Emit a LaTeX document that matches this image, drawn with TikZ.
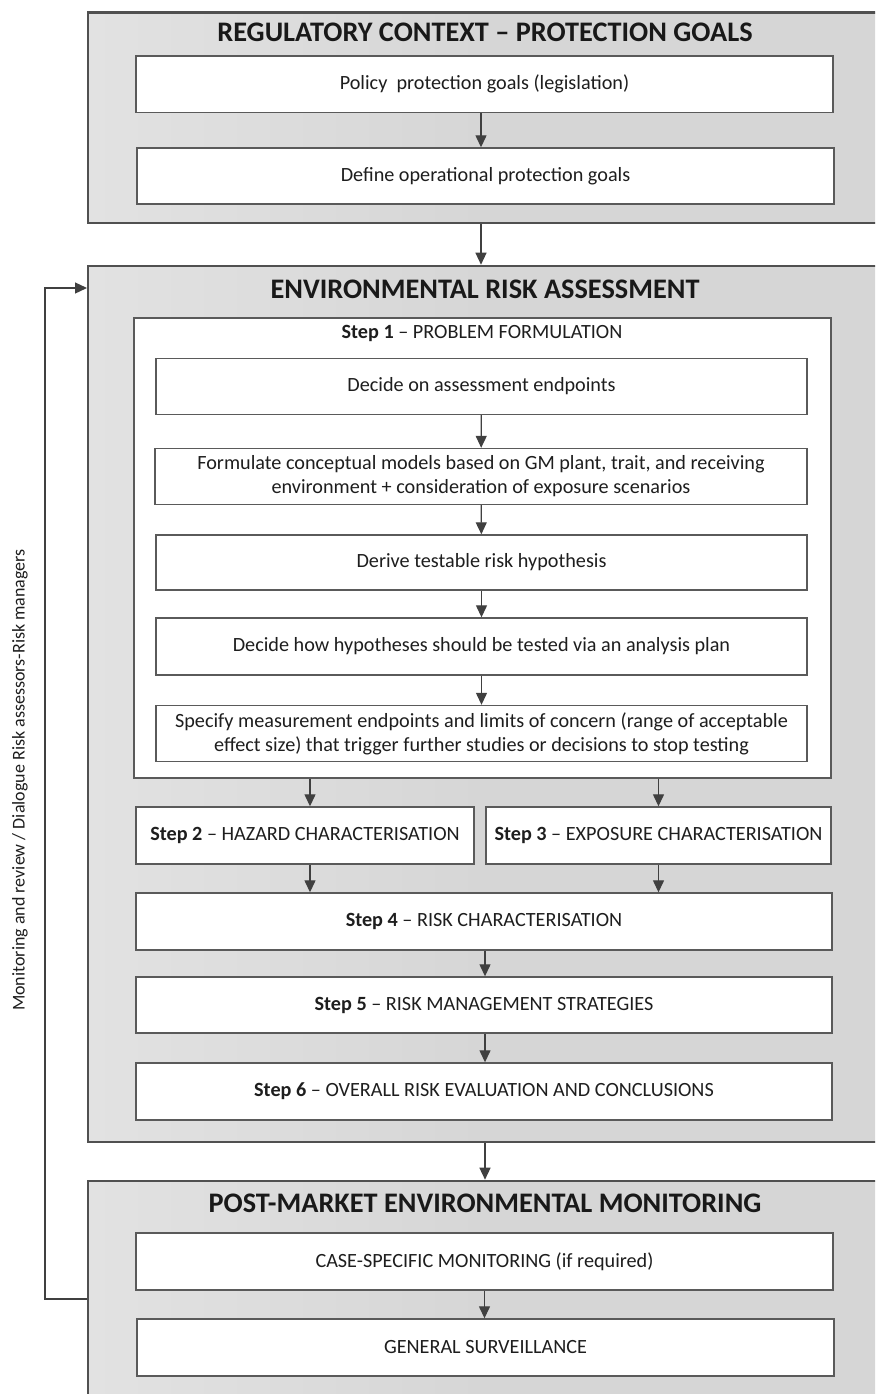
\documentclass[tikz,border=0pt]{standalone}
\usepackage{fontspec}
\setmainfont{Carlito}
\usetikzlibrary{arrows.meta,calc}
\definecolor{outerfill}{RGB}{214,214,214}
\definecolor{outerleft}{RGB}{226,226,226}
\definecolor{outerline}{RGB}{80,80,80}
\definecolor{innerline}{RGB}{90,90,90}
\definecolor{arrowcol}{RGB}{64,64,64}
\definecolor{textcol}{RGB}{30,30,30}
\tikzset{
  outerbox/.style={draw=outerline, line width=2.6pt, left color=outerleft, right color=outerfill, middle color=outerfill, shading angle=90, inner sep=0pt},
  innerbox/.style={draw=innerline, line width=1.4pt, fill=white, inner sep=2pt, align=center, text=textcol, font=\fontsize{20.2}{24}\selectfont},
  titletext/.style={font=\fontsize{28.3}{32}\selectfont\bfseries, text=black!90, inner sep=0pt},
  flow/.style={draw=arrowcol, line width=1.3pt, -{Triangle[width=11pt,length=12pt]}},
  sidetext/.style={font=\fontsize{18}{22}\selectfont, text=textcol, rotate=90, inner sep=0pt}
}
\begin{document}
\begin{tikzpicture}[x=1pt,y=-1pt]
\useasboundingbox (0,0) rectangle (875,1394);
\clip (0,0) rectangle (875,1394);
\fill[white] (0,0) rectangle (875,1394);

% Regulatory context
\node[outerbox, minimum width=792pt, minimum height=210.5pt] (reg) at (484,117.75) {};
\node[titletext] (regtitle) at (485,32) {REGULATORY CONTEXT – PROTECTION GOALS};
\node[innerbox, minimum width=697pt, minimum height=56.5pt] (policy) at (484.5,84.25) {Policy\ \ protection goals (legislation)};
\node[innerbox, minimum width=697pt, minimum height=56pt] (define) at (485.5,176) {Define operational protection goals};

% ERA
\node[outerbox, minimum width=792pt, minimum height=876pt] (era) at (484,704) {};
\node[titletext] (eratitle) at (485,289) {ENVIRONMENTAL RISK ASSESSMENT};
\node[innerbox, minimum width=697pt, minimum height=460pt] (step1) at (482.5,548) {};
\node[innerbox, inner sep=0pt, draw=none, fill=none] (step1title) at (482,333) {\textbf{Step 1} – PROBLEM FORMULATION};
\node[innerbox, minimum width=651pt, minimum height=56pt] (s1a) at (481.5,386.5) {Decide on assessment endpoints};
\node[innerbox, minimum width=652pt, minimum height=56pt] (s1b) at (481,476.5) {Formulate conceptual models based on GM plant, trait, and receiving\\environment + consideration of exposure scenarios};
\node[innerbox, minimum width=651pt, minimum height=55pt] (s1c) at (481.5,562.5) {Derive testable risk hypothesis};
\node[innerbox, minimum width=651pt, minimum height=57pt] (s1d) at (481.5,646.5) {Decide how hypotheses should be tested via an analysis plan};
\node[innerbox, minimum width=651pt, minimum height=56pt] (s1e) at (481.5,733.5) {Specify measurement endpoints and limits of concern (range of acceptable\\effect size) that trigger further studies or decisions to stop testing};
\node[innerbox, minimum width=338pt, minimum height=57pt] (step2) at (305,835.5) {\textbf{Step 2} – HAZARD CHARACTERISATION};
\node[innerbox, minimum width=345pt, minimum height=57pt] (step3) at (658.5,835.5) {\textbf{Step 3} – EXPOSURE CHARACTERISATION};
\node[innerbox, minimum width=696pt, minimum height=57pt] (step4) at (484,921.5) {\textbf{Step 4} – RISK CHARACTERISATION};
\node[innerbox, minimum width=696pt, minimum height=56pt] (step5) at (484,1005) {\textbf{Step 5} – RISK MANAGEMENT STRATEGIES};
\node[innerbox, minimum width=696pt, minimum height=57pt] (step6) at (484,1091.5) {\textbf{Step 6} – OVERALL RISK EVALUATION AND CONCLUSIONS};

% Post-market
\node[outerbox, minimum width=792pt, minimum height=239pt] (pm) at (484,1300.5) {};
\node[titletext] (pmtitle) at (485,1203) {POST-MARKET ENVIRONMENTAL MONITORING};
\node[innerbox, minimum width=697pt, minimum height=57pt] (case) at (484.5,1261.5) {CASE-SPECIFIC MONITORING (if required)};
\node[innerbox, minimum width=697pt, minimum height=57pt] (general) at (485.5,1347.5) {GENERAL SURVEILLANCE};

% side text
\node[sidetext] (side) at (20,780) {Monitoring and review / Dialogue Risk assessors-Risk managers};

% arrows
\draw[flow] ([xshift=-3.5pt]policy.south) -- ([xshift=-3.5pt]policy.south |- define.north);
\draw[flow] ([xshift=-3pt]reg.south) -- ([xshift=-3pt]reg.south |- era.north);
\draw[flow] (s1a) -- (s1b);
\draw[flow] (s1b) -- (s1c);
\draw[flow] (s1c) -- (s1d);
\draw[flow] (s1d) -- (s1e);
\coordinate (a2) at ([xshift=5pt]step2.north);
\coordinate (a2b) at ([xshift=5pt]step2.south);
\draw[flow] (step1.south -| a2) -- (a2);
\draw[flow] (step1.south -| step3.north) -- (step3.north);
\draw[flow] (a2b) -- (a2b |- step4.north);
\draw[flow] (step3.south) -- (step3.south |- step4.north);
\draw[flow] ([xshift=1pt]step4.south) -- ([xshift=1pt]step5.north);
\draw[flow] ([xshift=1pt]step5.south) -- ([xshift=1pt]step6.north);
\draw[flow] ([xshift=1pt]era.south) -- ([xshift=1pt]era.south |- pm.north);
\draw[flow] (case.south) -- (case.south |- general.north);
\coordinate (fbtop) at (87,288);
\draw[flow] ([yshift=1.5pt]pm.west) -| (45,288) -- (fbtop);
\end{tikzpicture}
\end{document}
